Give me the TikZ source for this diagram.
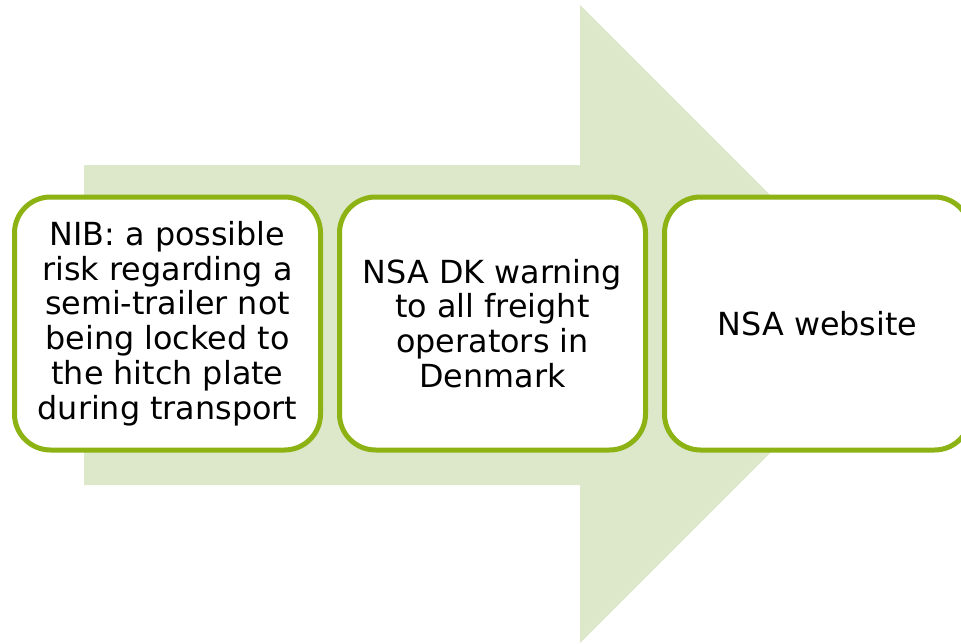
\documentclass[tikz,border=0pt]{standalone}
\usepackage{fontspec}
\setmainfont{DejaVu Sans}
\definecolor{arrowfill}{RGB}{221,232,203}
\definecolor{boxline}{RGB}{140,178,20}
\begin{document}
\begin{tikzpicture}[x=1pt,y=-1pt,
  stepbox/.style={draw=boxline, line width=5pt, fill=white, rounded corners=36pt,
    minimum width=306pt, minimum height=253pt, inner sep=0pt, align=center,
    font=\fontsize{31.8}{34.8}\selectfont, text=black}]
\useasboundingbox (0,0) rectangle (961,643);
\begin{scope}
\clip (0,0) rectangle (961,643);
\fill[arrowfill] (84,165) -- (580,165) -- (580,5) -- (899,324) -- (580,643) -- (580,485) -- (84,485) -- cycle;
\node[stepbox] (b1) at (167.5,323.5) {NIB: a possible\\risk regarding a\\semi-trailer not\\being locked to\\the hitch plate\\during transport};
\node[stepbox] (b2) at (492.5,323.5) {NSA DK warning\\to all freight\\operators in\\Denmark};
\node[stepbox] (b3) at (817.5,323.5) {NSA website};
\end{scope}
\end{tikzpicture}
\end{document}
